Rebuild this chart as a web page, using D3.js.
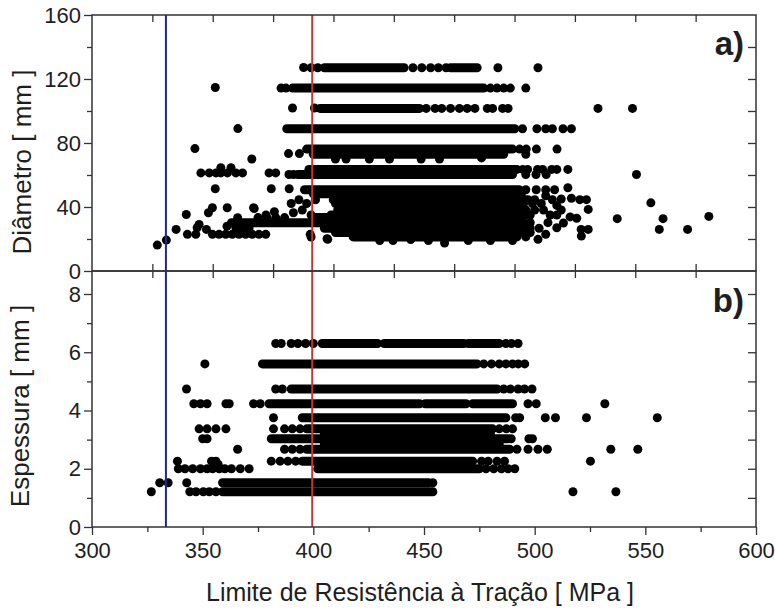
<!DOCTYPE html>
<html><head><meta charset="utf-8">
<script src="https://cdn.jsdelivr.net/npm/d3@7"></script>
<style>
body{margin:0;background:#fff}
svg{display:block}
text{font-family:"Liberation Sans",Arial,sans-serif;fill:#1e1e1e}
</style>
</head><body>
<svg id="chart" width="775" height="611"></svg>
<script>
// ---------- data ----------
const xTickValues = [300, 350, 400, 450, 500, 550, 600];
const xMinorTicks = [325, 375, 425, 475, 525, 575];
const diamTicks = [0, 40, 80, 120, 160];
const diamMinor = [20, 60, 100, 140];
const thickTicks = [0, 2, 4, 6, 8];
const thickMinor = [1, 3, 5, 7];
const refLines = [333.4, 399.5];           // blue, red limits (MPa)
const panelLabels = ["a)", "b)"];
const xTitle = "Limite de Resistência à Tração [ MPa ]";
const yTitles = ["Diâmetro [ mm ]", "Espessura [ mm ]"];

// dense rows of overlapping points: [level, fromMPa, toMPa]
const diamRuns = [
  [127, 405, 441], [127, 462, 474],
  [114.3, 390.6, 477],
  [101.6, 403, 448],
  [88.9, 388, 491],
  [76.2, 397, 490],
  [73, 400, 486],
  [63.5, 398, 492],
  [60.3, 393, 490],
  [50.8, 396, 493],
  [48.3, 400, 494],
  [44.5, 409, 497],
  [42.2, 410, 495],
  [38.1, 411, 496],
  [35, 408, 498],
  [33.4, 400, 494],
  [30.2, 363, 495],
  [26.7, 405, 498],
  [24, 410, 494],
  [21.3, 418, 492]
];
// isolated points: [MPa, mm]
const diamPoints = [
  [329.5,16.2],[333.6,19.3],[338,26],[342.6,35.3],[346.5,76.5],[343.1,22.9],[346.9,22.9],
  [348.4,29.1],[351.7,26],[352.6,36.4],[354.4,39.5],[355.7,51.4],[361.1,39.5],[365.9,89],
  [355.7,114.7],[372.2,70],[373,39.5],
  [349.2,61.3],[353,61.3],[356,61.3],[358.2,61.3],[361.2,61.3],[365,61.3],[368,61.3],
  [358.2,64.5],[362.8,64.5],
  [354.4,22.9],[357.4,22.9],[360.4,22.9],[363.4,22.9],[366.4,22.9],[369.4,22.9],
  [372.4,22.9],[375.4,22.9],[378.5,22.9],
  [347.5,27],[365,27],[368,27],[371,27],[361,28],[365.8,33.3],
  [373.3,39],[378.6,35],[382.4,37],[375,33.4],[379,33.4],[383,33.4],[387,33.4],
  [380,61.3],[383,61.3],[381,51.4],[389.1,51.4],[389,60.3],[391,60.3],
  [388.8,73.4],[393.7,73.4],[390.6,101.9],[400.5,101.9],
  [395.6,127.2],[399,127],[402,127],[385.4,114.3],[387.6,114.3],
  [390,42.2],[393.5,44.5],[397,42.2],[401,44.5],[391,36.4],[395,38.1],[399,35],
  [398.6,22.9],[406.2,20.2],[399,21.2],
  [445,127],[449,127],[453,127],[456.5,127],[460,127],[483.4,127],[501.5,127],
  [480,114.3],[483,114.3],[486,114.3],[489,114.3],[496,114.3],
  [451,101.6],[455,101.6],[458,101.6],[462,101.6],[466,101.6],[469.5,101.6],[473,101.6],
  [478.6,101.6],[481,101.6],[485.5,101.6],[488,101.6],[528.6,101.6],[544.2,101.6],
  [494.5,88.9],[501,88.9],[505,88.9],[508,88.9],[512.8,88.9],[516.6,88.9],
  [493.2,76.2],[496.2,76.2],[500.8,76.2],[510.1,76.2],[496,73],
  [410,70],[414.8,70],[425.3,70],[434.4,70],[448.7,70],[457,70],[476,70.7],
  [494.6,63.5],[496.8,63.5],[501.3,63.5],[503.6,63.5],[507.7,63.5],[510,63.5],[515,63.5],
  [496,60.3],[500.6,60.3],[505.2,60.3],[546,60.3],
  [496,50.8],[500.7,50.8],[505,50.8],[509,50.8],[515,52],
  [500,44.5],[516.6,45.5],[520.4,44.6],[523.4,44.6],[499,42.2],[503,42.2],[552.5,42.6],
  [500,38.1],[504,38.1],[524.2,38.5],[516,33.8],[519,33],[537.3,32.7],[558,32.7],[578.7,34.1],
  [521,26],[524.2,26],[556.3,26],[569.1,26],[502,26.7],[498,30.2],[506,30.2],[510,35],
  [512,38.1],[508,44.5],[501.5,19.8],[521.1,21.8],[505,47],[510,41],[507,35],[513,30],
  [498,24],[505,23],[510,27],[512,45],
  [406.5,19.8],[430,19],[436,19],[444,19.7],[452,19],[459.3,17.5],[470,19],[480,19],
  [490,19],[496,21.3]
];

const thickRuns = [
  [6.3, 404, 429], [6.3, 432, 468], [6.3, 470, 484],
  [5.6, 377, 474],
  [4.74, 390, 483],
  [4.23, 380, 448], [4.23, 450.5, 469], [4.23, 472, 490],
  [3.75, 395, 487],
  [3.37, 397, 481],
  [3.2, 405, 480],
  [3.03, 381, 488],
  [2.85, 405, 484],
  [2.67, 397, 488.7],
  [2.26, 395, 472],
  [2.0, 402, 475],
  [1.52, 359, 452],
  [1.21, 359, 454]
];
const thickPoints = [
  [383,6.3],[385.5,6.3],[390,6.3],[393,6.3],[396.5,6.3],[400,6.3],[487,6.3],[489.5,6.3],[492.5,6.3],
  [351,5.6],[477,5.6],[480.5,5.6],[484,5.6],[487,5.6],[490,5.6],[492.6,5.6],[495.5,5.6],
  [342.7,4.74],[383,4.74],[386,4.74],[486,4.74],[489,4.74],[492.5,4.74],[495.4,4.74],[498.8,4.74],
  [346,4.23],[349,4.23],[352,4.23],[360.5,4.23],[362,4.23],[373,4.23],[376,4.23],[497,4.23],[500.7,4.23],[531.7,4.23],
  [382,3.75],[491.4,3.75],[493.2,3.75],[504.8,3.75],[509.4,3.75],[523.4,3.75],[555.4,3.75],
  [348.4,3.37],[352,3.37],[356,3.37],[360.5,3.37],[382,3.37],[387,3.37],[390.5,3.37],[394,3.37],
  [484,3.37],[487.2,3.37],[490,3.37],
  [350,3.03],[352,3.03],[489.4,3.03],[497.4,3.03],[499,3.03],
  [365.8,2.67],[387,2.67],[390.5,2.67],[394,2.67],[492,2.67],[497,2.67],[501.5,2.67],[505.7,2.67],
  [534.4,2.67],[546.6,2.67],
  [338.6,2.26],[354,2.26],[356,2.26],[357,2.15],[381,2.26],[385,2.26],[388.5,2.26],[392,2.26],
  [476,2.26],[479,2.26],[483,2.26],[486.4,2.26],[525.2,2.26],
  [339,2],[342,2],[345.5,2],[349,2],[352,2],[354.5,2],[357.5,2],[360,2],[363,2],[367,2],[371,2],
  [478,2],[481.5,2],[485,2],[488,2],[491,2],
  [330.6,1.52],[334.4,1.52],[342.8,1.52],[454,1.52],
  [326.8,1.21],[344.2,1.21],[347,1.21],[350.3,1.21],[353,1.21],[356,1.21],[517.3,1.21],[536.7,1.21]
];

// ---------- layout ----------
const L = 92, R = 756, T = 15, MID = 271, B = 527;
const svg = d3.select("#chart");
const x = d3.scaleLinear().domain([300, 600]).range([L, R]);
const yD = d3.scaleLinear().domain([0, 160]).range([MID, T]);
const yE = d3.scaleLinear().domain([0, 8]).range([B, 294]);
const frameTickScale = d3.scaleLinear().domain([0, 11]).range([L, R]);
const R_DOT = 4.5;
const lineColors = ["#23239b", "#d0302f"];

function drawData(g, runs, pts, y) {
  g.selectAll("line.run").data(runs).join("line").attr("class", "run")
    .attr("x1", d => x(d[1])).attr("x2", d => x(d[2]))
    .attr("y1", d => y(d[0])).attr("y2", d => y(d[0]))
    .attr("stroke", "#000").attr("stroke-width", R_DOT * 2).attr("stroke-linecap", "round");
  g.selectAll("circle").data(pts).join("circle")
    .attr("cx", d => x(d[0])).attr("cy", d => y(d[1])).attr("r", R_DOT).attr("fill", "#000");
}
drawData(svg.append("g"), diamRuns, diamPoints, yD);
drawData(svg.append("g"), thickRuns, thickPoints, yE);

// reference lines across both panels
svg.append("g").selectAll("line").data(refLines).join("line")
  .attr("x1", d => x(d)).attr("x2", d => x(d)).attr("y1", T).attr("y2", B)
  .attr("stroke", (d, i) => lineColors[i]).attr("stroke-width", 2);

// frames
const frame = svg.append("g").attr("fill", "none").attr("stroke", "#333").attr("stroke-width", 1.5);
frame.append("rect").attr("x", L).attr("y", T).attr("width", R - L).attr("height", MID - T);
frame.append("rect").attr("x", L).attr("y", MID).attr("width", R - L).attr("height", B - MID);

function styleAxis(g) {
  g.select(".domain").remove();
  g.selectAll(".tick line").attr("stroke", "#333").attr("stroke-width", 1.3);
  g.selectAll(".tick text").style("font-size", "22px").attr("fill", "#1e1e1e");
}
// left axes
svg.append("g").attr("transform", `translate(${L},0)`)
  .call(d3.axisLeft(yD).tickValues(diamTicks).tickSize(8).tickPadding(3)).call(styleAxis);
svg.append("g").attr("transform", `translate(${L},0)`)
  .call(d3.axisLeft(yD).tickValues(diamMinor).tickSize(5).tickFormat("")).call(styleAxis);
svg.append("g").attr("transform", `translate(${L},0)`)
  .call(d3.axisLeft(yE).tickValues(thickTicks).tickSize(8).tickPadding(3)).call(styleAxis);
svg.append("g").attr("transform", `translate(${L},0)`)
  .call(d3.axisLeft(yE).tickValues(thickMinor).tickSize(5).tickFormat("")).call(styleAxis);
// right axes (ticks inward)
svg.append("g").attr("transform", `translate(${R},0)`)
  .call(d3.axisLeft(yD).tickValues(d3.range(20, 160, 20)).tickSize(8).tickFormat("")).call(styleAxis);
svg.append("g").attr("transform", `translate(${R},0)`)
  .call(d3.axisLeft(yE).tickValues(d3.range(1, 9, 1)).tickSize(8).tickFormat("")).call(styleAxis);
// bottom axis
svg.append("g").attr("transform", `translate(0,${B})`)
  .call(d3.axisBottom(x).tickValues(xTickValues).tickSize(8).tickPadding(7).tickFormat(d3.format("d"))).call(styleAxis);
svg.append("g").attr("transform", `translate(0,${B})`)
  .call(d3.axisBottom(x).tickValues(xMinorTicks).tickSize(5).tickFormat("")).call(styleAxis);
// top / middle frame ticks
const inner = d3.range(1, 11);
svg.append("g").attr("transform", `translate(0,${T})`)
  .call(d3.axisBottom(frameTickScale).tickValues(inner).tickSize(7).tickFormat("")).call(styleAxis);
svg.append("g").attr("transform", `translate(0,${MID})`)
  .call(d3.axisTop(frameTickScale).tickValues(inner).tickSize(7).tickFormat("")).call(styleAxis);
svg.append("g").attr("transform", `translate(0,${MID})`)
  .call(d3.axisBottom(frameTickScale).tickValues(inner).tickSize(7).tickFormat("")).call(styleAxis);

// titles
svg.append("text").attr("x", 420).attr("y", 601).attr("text-anchor", "middle")
  .style("font-size", "25px").text(xTitle);
svg.append("text").attr("transform", "translate(31,162) rotate(-90)").attr("text-anchor", "middle")
  .style("font-size", "26px").text(yTitles[0]);
svg.append("text").attr("transform", "translate(29,406) rotate(-90)").attr("text-anchor", "middle")
  .style("font-size", "26px").text(yTitles[1]);
// panel labels
svg.append("text").attr("x", 744).attr("y", 55).attr("text-anchor", "end")
  .style("font-size", "33px").style("font-weight", "bold").text(panelLabels[0]);
svg.append("text").attr("x", 744).attr("y", 312).attr("text-anchor", "end")
  .style("font-size", "33px").style("font-weight", "bold").text(panelLabels[1]);
</script>
</body></html>
